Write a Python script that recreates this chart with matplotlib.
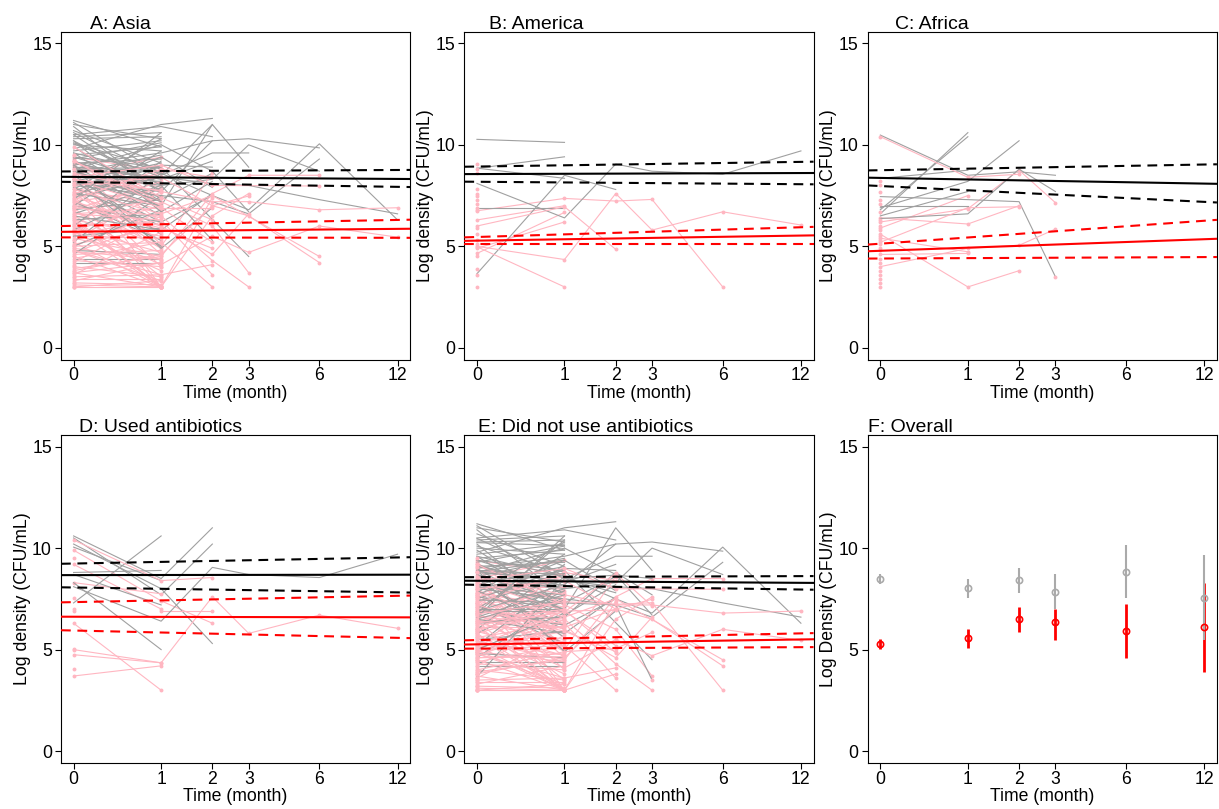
import numpy as np
import matplotlib.pyplot as plt

plt.rcParams['font.family'] = ['Liberation Sans', 'DejaVu Sans']

n = None
times = [0, 1, 2, 3, 6, 12]

# individual trajectories, values at times[0..] (None = missing)
asia_gray = [
    [11.2, 9.9], [11.1, 8.6], [11.0, 10.3], [10.9, 7.6], [10.7, 9.1], [10.4, 10.6],
    [10.3, 10.4], [10.1, 8.8], [10.0, 9.7], [9.9, 7.2], [9.8, 11.0, 11.3], [9.7, 10.2],
    [9.6, 6.9], [9.5, 9.9], [9.4, 8.1], [9.3, 10.1], [9.2, 7.8], [9.1, 9.3], [9.0, 6.5],
    [8.9, 8.7], [8.8, 10.0], [8.7, 7.4], [8.6, 9.5], [8.5, 5.6], [8.4, 8.2], [8.3, 6.2],
    [8.2, 9.1], [8.1, 7.7], [8.0, 8.9], [7.9, 6.0], [7.8, 10.3], [7.6, 7.0], [7.4, 8.4],
    [7.2, 5.3], [7.0, 9.7], [6.8, 7.3], [6.6, 8.0], [6.3, 6.6], [6.0, 9.2], [5.8, 7.9],
    [5.5, 5.9], [5.2, 8.6], [5.0, 6.8], [4.8, 4.6], [4.6, 7.5], [4.4, 4.4], [4.2, 4.2],
    [10.5, 10.9, 10.4], [8.3, 7.0, 11.0, 8.9], [9.0, 9.6, 10.2, 10.3, 9.85],
    [8.6, 8.0, 8.3, 10.0, 8.7], [n, 8.5, 9.6, 9.6], [9.4, 8.9, n, 4.5],
    [8.0, 7.5, 7.2, 6.6, 9.3], [7.0, 6.2, 7.5, 6.8, 10.05, 6.3],
    [8.8, 8.4, 8.1, 8.0, 7.3, 6.6], [9.1, 8.3, 9.2], [7.5, 9.0, 8.9], [9.6, 8.6, 7.5],
    [8.2, 7.3, 8.6], [7.7, 9.4, 7.9], [10.2, 6.7, 8.2], [8.9, 4.9, 6.9], [6.5, 5.8, 7.6],
    [n, 10.0, 8.7, 6.7],
]
asia_gray_abx = [
    [10.6, 8.5, 11.0], [10.5, 7.7, 10.2], [10.2, 8.0, 5.3], [8.3, 5.0], [7.3, 10.6],
    [10.05, 8.4], [8.7, 7.2], [8.8, 8.9],
]
asia_pink = [
    [9.4, 8.7], [9.3, 6.2], [9.1, 7.9], [9.0, 5.1], [8.9, 8.4], [8.8, 3.0], [8.7, 7.2],
    [8.5, 9.4], [8.4, 4.6], [8.3, 7.5], [8.2, 5.6], [8.1, 8.1], [8.0, 4.0], [7.9, 6.8],
    [7.8, 7.1], [7.7, 5.3], [7.6, 8.6], [7.5, 3.0], [7.4, 6.4], [7.3, 4.9], [7.2, 7.8],
    [7.1, 5.8], [6.9, 3.5], [6.8, 8.2], [6.7, 5.0], [6.6, 6.9], [6.5, 4.3], [6.4, 7.4],
    [6.3, 5.5], [6.2, 3.0], [6.1, 6.1], [6.0, 8.8], [5.9, 4.7], [5.8, 7.0], [5.7, 3.8],
    [5.6, 6.3], [5.5, 5.4], [5.3, 7.7], [5.2, 3.0], [5.1, 5.9], [5.0, 6.7], [4.9, 4.4],
    [4.8, 3.3], [4.7, 6.2], [4.6, 4.8], [4.5, 3.0], [4.4, 5.2], [4.3, 4.0], [4.2, 6.5],
    [4.0, 3.5], [3.9, 4.5], [3.7, 3.0], [3.6, 5.7], [3.5, 3.6], [3.4, 3.4], [3.3, 4.2],
    [3.2, 3.1], [3.1, 3.0], [3.0, 3.3], [3.0, 3.0],
    [7.6, 5.0, 8.6], [6.4, 3.0, 7.4], [8.3, 6.9, 5.2], [5.4, 4.5, 7.6, 8.5, 8.5],
    [7.0, 5.9, 4.9], [9.2, 7.2, 6.0, 3.7], [6.6, 6.3, 3.6], [8.0, 8.4, 7.0, 6.5, 4.2],
    [5.8, 3.0, 6.5, 7.6], [7.3, 8.8, 8.4], [6.9, 6.5, 4.3, 3.0],
    [8.6, 7.7, 7.2, 7.2, 6.8, 6.9], [6.0, 4.1, 5.5, 4.7, 6.0, 5.45],
    [7.8, 6.6, 7.5, n, 4.5], [8.4, 9.0, 8.0, n, 7.97], [4.8, 3.6, 4.1], [5.0, 5.2, 3.0],
    [7.2, 6.0, 4.6, 6.6], [3.8, 4.6, 7.0, 7.48],
    [9.5], [9.2], [8.8], [8.5], [8.1], [7.7], [7.4], [7.0], [6.8], [6.5], [6.1], [5.7],
    [5.3], [4.9], [4.5], [4.1], [3.8], [3.5], [3.2], [3.0],
]
asia_pink_abx = [
    [9.9, 7.4, 6.3], [9.2, 7.0], [8.3, 7.75], [6.3, 3.0], [4.75, 4.35], [3.7, 4.2],
    [n, 6.9, 6.9], [9.5], [7.55], [7.0], [6.9], [5.05], [4.05],
]

america_gray = [[10.27, 10.12], [8.84, 9.41], [8.85, 8.35], [6.9, 6.9], [3.65, 8.5, 7.8]]
america_gray_abx = [[8.1, 6.4, 9.05, 8.7, 8.55, 9.7]]
america_pink = [
    [6.75, 7.36, 7.23, 7.31, 3.0], [6.3, 7.0], [4.9, 6.2], [4.65, 6.67], [4.98, 3.0],
    [6.0, 6.95, 4.85],
    [9.05], [8.8], [8.6], [7.8], [7.6], [7.5], [7.3], [7.1], [6.9], [6.8], [5.9], [5.6],
    [5.3], [5.1], [4.5], [3.9], [3.6], [3.0],
]
america_pink_abx = [[5.0, 4.35, 7.6, 5.8, 6.7, 6.05]]

africa_gray = [
    [10.48, 8.5, 8.67, 8.5], [6.8, 10.4], [6.6, 10.6], [7.45, 7.3, 7.2, 3.5],
    [6.37, 6.6, 8.8, 7.7], [6.9, 8.2, 10.2], [8.35, 8.75], [6.5, 7.7], [7.0, 7.0],
]
africa_gray_abx = []
africa_pink = [
    [6.2, 6.85, 8.75, 7.15], [5.9, 7.5], [5.6, 3.0, 3.8], [6.4, 6.1, 7.0], [5.4, 4.73],
    [4.6, 4.65], [4.0, 4.9, 5.05, 5.85], [5.2, 6.9, 6.95], [n, n, n, 3.5],
    [8.2], [8.0], [7.7], [7.3], [7.1], [6.7], [6.3], [6.0], [5.8], [5.5], [5.3], [5.1],
    [4.9], [4.8], [4.4], [4.2], [3.8], [3.6], [3.4], [3.2], [3.0],
]
africa_pink_abx = [[10.4, 8.4, 8.55]]

# fitted lines: value at month 0 and month 12
# order: black fit, black upper, black lower, red fit, red upper, red lower
fit_asia = [[8.42, 8.32], [8.69, 8.76], [8.17, 7.93], [5.72, 5.86], [6.01, 6.30], [5.44, 5.42]]
fit_america = [[8.56, 8.61], [8.93, 9.16], [8.18, 8.06], [5.28, 5.53], [5.46, 5.94], [5.09, 5.09]]
fit_africa = [[8.37, 8.09], [8.75, 9.03], [7.97, 7.19], [4.78, 5.35], [5.13, 6.26], [4.40, 4.47]]
fit_abx = [[8.67, 8.69], [9.24, 9.54], [8.06, 7.82], [6.62, 6.59], [7.34, 7.65], [5.94, 5.58]]
fit_noabx = [[8.39, 8.29], [8.57, 8.62], [8.19, 7.96], [5.26, 5.50], [5.47, 5.80], [5.05, 5.12]]

# overall means and 95% CI
gray_mean = [8.48, 8.03, 8.43, 7.85, 8.84, 7.54]
gray_lo = [8.21, 7.56, 7.80, 7.02, 7.52, 5.46]
gray_hi = [8.74, 8.49, 9.03, 8.74, 10.15, 9.67]
red_mean = [5.28, 5.56, 6.49, 6.34, 5.93, 6.10]
red_lo = [5.03, 5.08, 5.85, 5.46, 4.59, 3.90]
red_hi = [5.54, 6.02, 7.11, 7.00, 7.26, 8.30]

GRAY = '#a0a0a0'
PINK = '#ffb6c1'
XLIM = (np.expm1(-0.1), np.expm1(2.665))


def setup(ax, title, tx, ylab='Log density (CFU/mL)'):
    ax.set_xscale('function', functions=(np.log1p, np.expm1))
    ax.set_xlim(*XLIM)
    ax.set_ylim(-0.6, 15.58)
    ax.set_xticks(times)
    ax.set_xticklabels([str(t) for t in times])
    ax.set_yticks([0, 5, 10, 15])
    ax.tick_params(direction='out', length=4, width=0.8, labelsize=12.7)
    ax.tick_params(axis='x', pad=1.2)
    ax.tick_params(axis='y', pad=2.5)
    ax.minorticks_off()
    for s in ax.spines.values():
        s.set_linewidth(0.8)
    ax.set_xlabel('Time (month)', fontsize=12.7)
    ax.set_ylabel(ylab, fontsize=12.7)
    ax.xaxis.set_label_coords(0.5, -0.076)
    ax.yaxis.set_label_coords(-0.087, 0.5)
    ax.text(tx, 1.008, title, transform=ax.transAxes, ha='left', va='baseline', fontsize=14)


def draw_one(ax, r, color, marker):
    t = [times[i] for i, v in enumerate(r) if v is not None]
    v = [x for x in r if x is not None]
    ax.plot(t, v, color=color, lw=0.8, marker=marker, ms=2.8, mew=0, zorder=1)


def draw_traj(ax, grays, pinks):
    # subjects drawn in turn, gray series then pink series
    for i in range(max(len(grays), len(pinks))):
        if i < len(grays):
            draw_one(ax, grays[i], GRAY, None)
        if i < len(pinks):
            draw_one(ax, pinks[i], PINK, 'o')


def draw_fits(ax, fit):
    lo, hi = np.log1p(XLIM[0]), np.log1p(XLIM[1])
    styles = [('black', '-'), ('black', (0, (4.7, 3.2))), ('black', (0, (4.7, 3.2))),
              ('red', '-'), ('red', (0, (4.7, 3.2))), ('red', (0, (4.7, 3.2)))]
    for (v0, v12), (c, ls) in zip(fit, styles):
        slope = (v12 - v0) / np.log1p(12)
        ax.plot(XLIM, [v0 + slope * lo, v0 + slope * hi], color=c, ls=ls, lw=1.5, zorder=3)


fig = plt.figure(figsize=(12.19, 8.09), dpi=100)
lefts = [0.0500, 0.3809, 0.7118]
w, h = 0.2865, 0.406
axA = fig.add_axes([lefts[0], 0.555, w, h])
axB = fig.add_axes([lefts[1], 0.555, w, h])
axC = fig.add_axes([lefts[2], 0.555, w, h])
axD = fig.add_axes([lefts[0], 0.0565, w, h])
axE = fig.add_axes([lefts[1], 0.0565, w, h])
axF = fig.add_axes([lefts[2], 0.0565, w, h])

panels = [
    (axA, 'A: Asia', 0.083, asia_gray + asia_gray_abx, asia_pink + asia_pink_abx, fit_asia),
    (axB, 'B: America', 0.071, america_gray + america_gray_abx,
     america_pink + america_pink_abx, fit_america),
    (axC, 'C: Africa', 0.078, africa_gray + africa_gray_abx,
     africa_pink + africa_pink_abx, fit_africa),
    (axD, 'D: Used antibiotics', 0.052, asia_gray_abx + america_gray_abx + africa_gray_abx,
     asia_pink_abx + america_pink_abx + africa_pink_abx, fit_abx),
    (axE, 'E: Did not use antibiotics', 0.038, asia_gray + america_gray + africa_gray,
     asia_pink + america_pink + africa_pink, fit_noabx),
]
for ax, title, tx, grays, pinks, fit in panels:
    setup(ax, title, tx)
    draw_traj(ax, grays, pinks)
    draw_fits(ax, fit)

setup(axF, 'F: Overall', 0.0, ylab='Log Density (CFU/mL)')
axF.vlines(times, red_lo, red_hi, color='red', lw=2.0, zorder=2)
axF.vlines(times, gray_lo, gray_hi, color='#aaaaaa', lw=1.5, zorder=3)
axF.plot(times, gray_mean, 'o', ms=4.5, mfc='none', mec='#aaaaaa', mew=1.2, zorder=4)
axF.plot(times, red_mean, 'o', ms=4.5, mfc='none', mec='red', mew=1.2, zorder=5)

fig.savefig('out.png', dpi=100)
